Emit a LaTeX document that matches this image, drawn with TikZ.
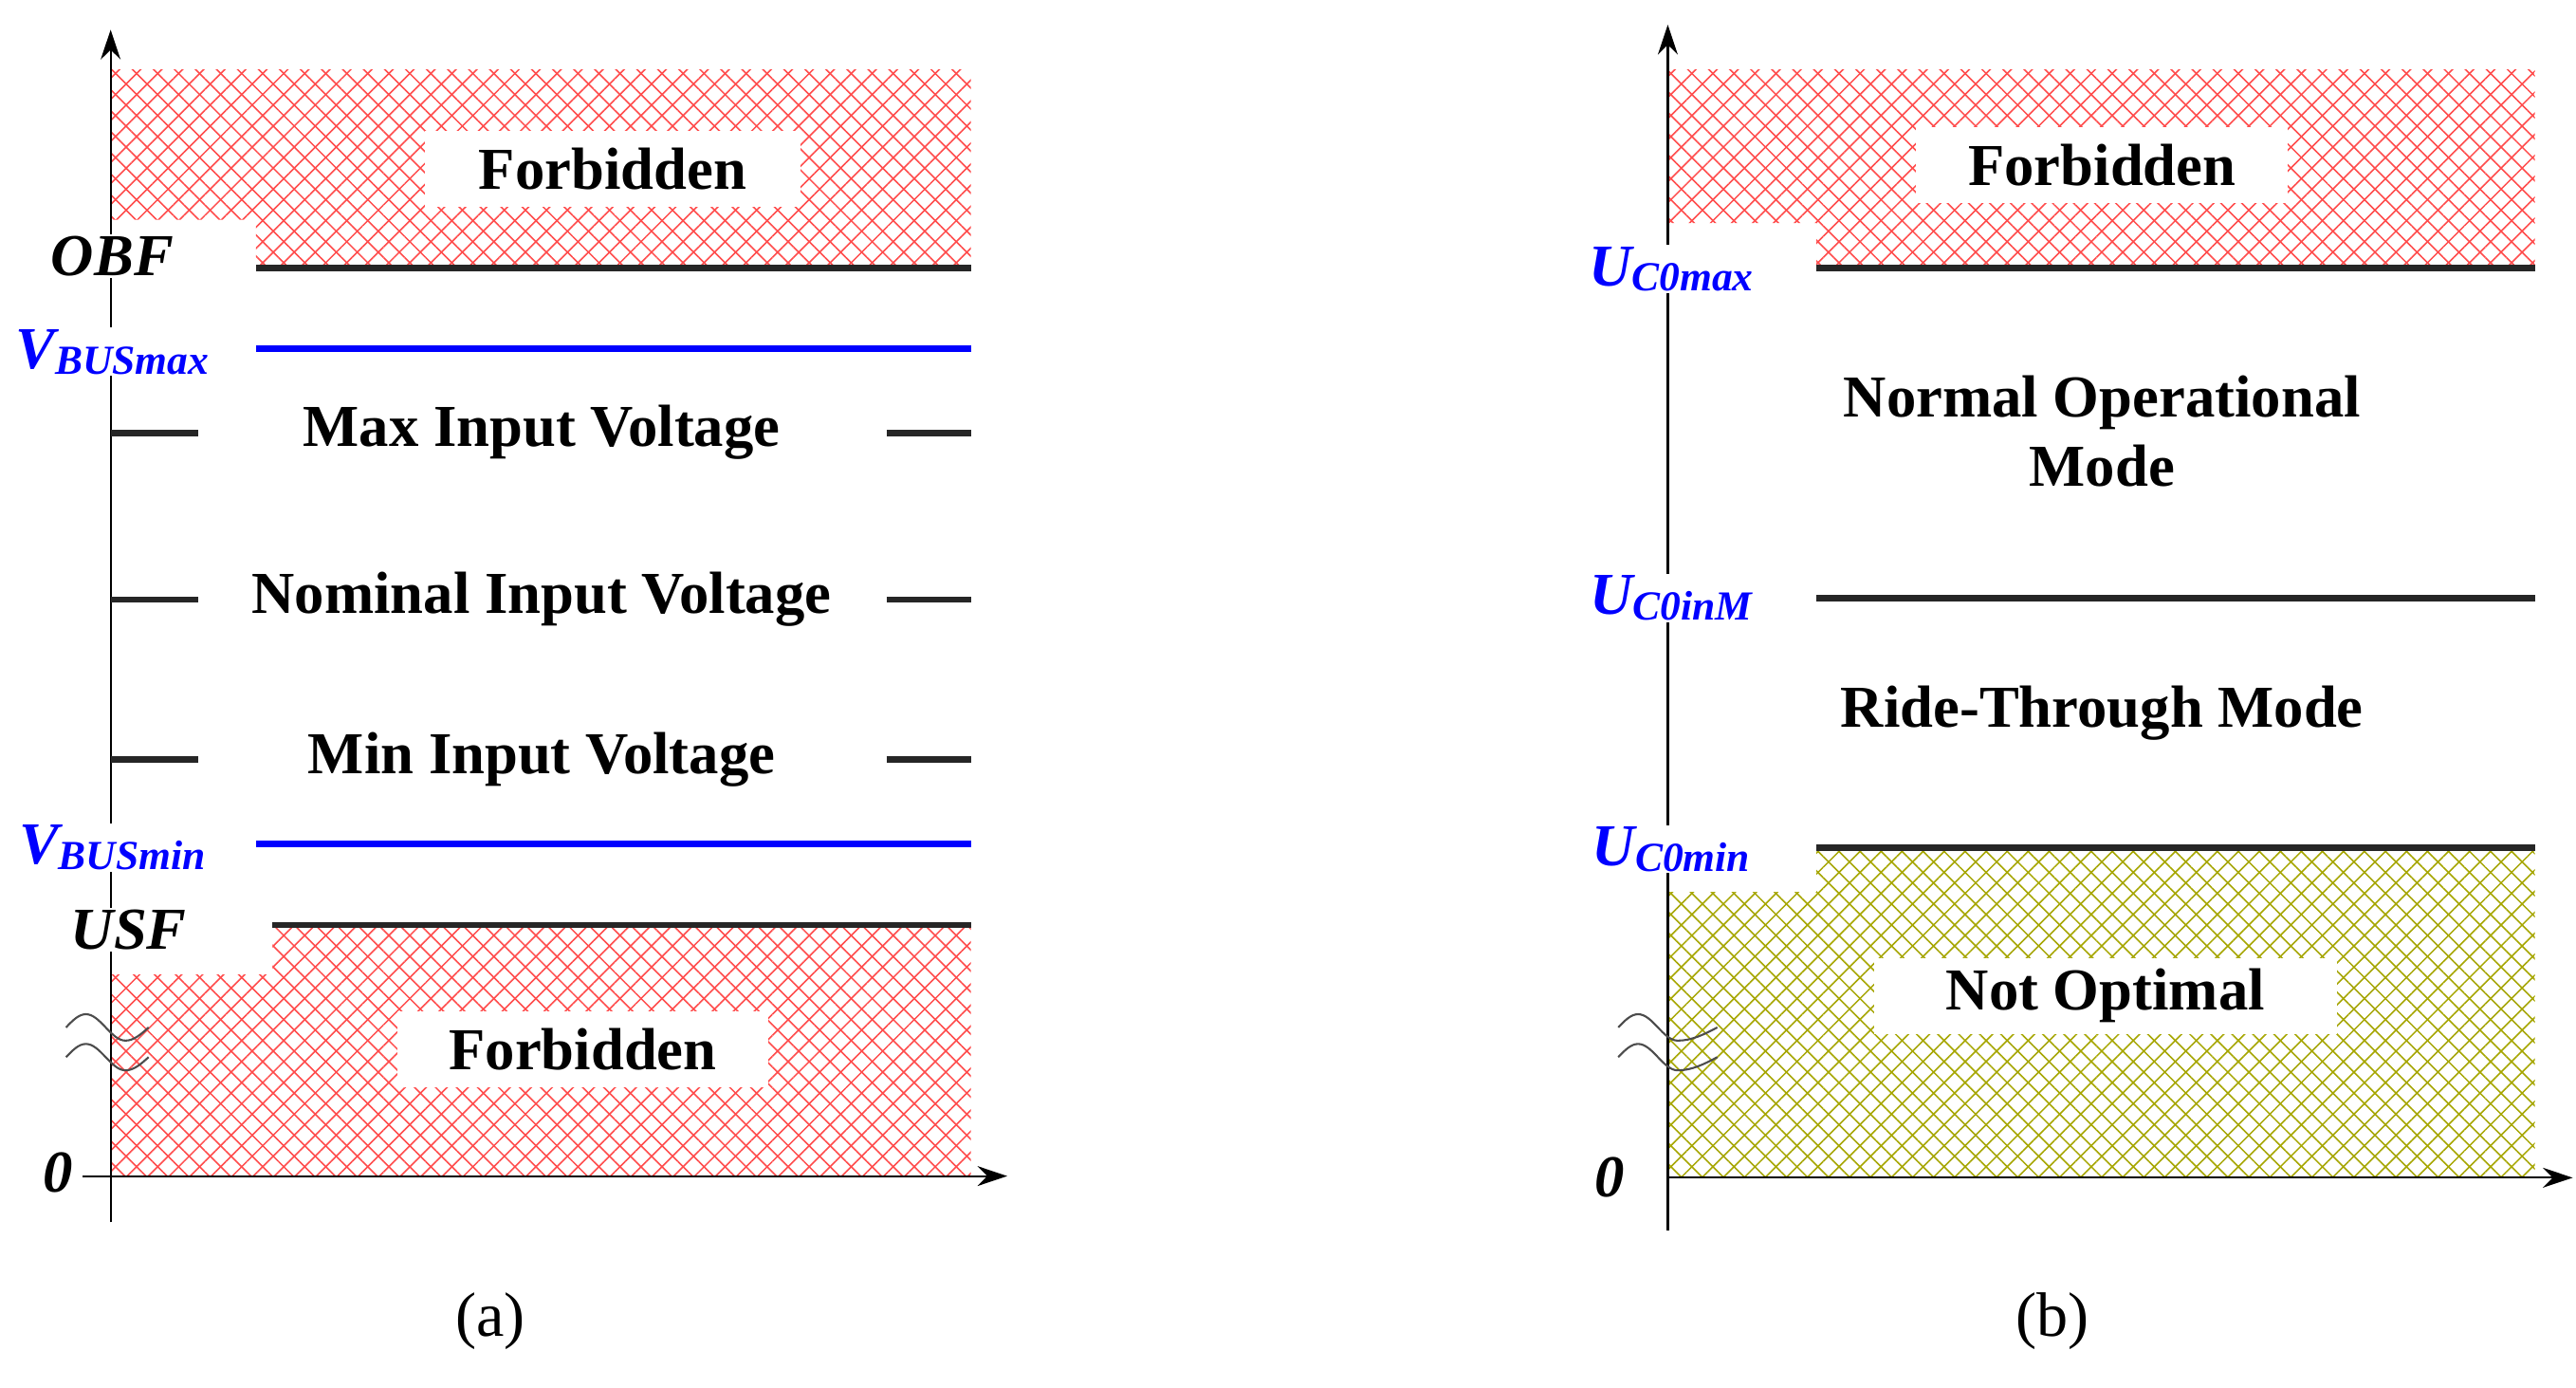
\documentclass[tikz,border=0pt]{standalone}
\usepackage{fontspec}
\setmainfont{Liberation Serif}
\usetikzlibrary{patterns.meta,arrows.meta,calc}
\tikzset{
 redhatch/.style={pattern={Lines[angle=45,distance=9pt,line width=0.9pt]},pattern color=red!70},
 redhatch2/.style={pattern={Lines[angle=-45,distance=9pt,line width=0.9pt]},pattern color=red!70},
 olhatch/.style={pattern={Lines[angle=45,distance=9pt,line width=0.9pt]},pattern color=olive!70},
 olhatch2/.style={pattern={Lines[angle=-45,distance=9pt,line width=0.9pt]},pattern color=olive!70},
 big/.style={font=\fontsize{36}{42}\selectfont\bfseries},
 wbox/.style={fill=white,inner sep=0pt,minimum width=#1,minimum height=46pt,big},
 axis/.style={line width=1.2pt,-{Stealth[length=18pt,width=12pt]}},
 blk/.style={line width=4pt,black!85},
 blu/.style={line width=4pt,blue},
 lab/.style={font=\fontsize{36}{42}\selectfont\bfseries\itshape,fill=white,inner sep=1pt},
 blab/.style={font=\fontsize{36}{42}\selectfont\bfseries\itshape,text=blue,inner sep=1pt,fill=white},
 sub/.style={},
 tick/.style={line width=4pt,black!85},
 wav/.style={line width=1.2pt,black!70},
}
\newcommand{\mysub}[1]{\raisebox{-0.2ex}{\fontsize{25}{28}\selectfont #1}}
\begin{document}
\begin{tikzpicture}[x=1pt,y=-1pt]
\useasboundingbox[fill=white] (0,0) rectangle (1560,840);
% ---------- (a) ----------
\foreach \s in {redhatch,redhatch2}{
 \fill[\s] (67,42) -- (588,42) -- (588,162) -- (155,162) -- (155,133) -- (67,133) -- cycle;
 \fill[\s] (165,560) -- (588,560) -- (588,712) -- (67,712) -- (67,590) -- (165,590) -- cycle;}
\node[wbox=227pt] (fa1) at (371,102) {Forbidden};
\node[wbox=225pt] (fa2) at (353,635) {Forbidden};
\draw[axis] (67,740) -- (67,18);
\draw[axis] (50,712) -- (610,712);
\coordinate (obf1) at (155,162); \coordinate (obf2) at (588,162);
\draw[blk] (obf1) -- (obf2);
\node[lab] (obf) at (68,155) {OBF};
\coordinate (vm1) at (155,211); \coordinate (vm2) at (588,211);
\draw[blu] (vm1) -- (vm2);
\node[blab] (vmax) at (68,213) {V\mysub{BUSmax}};
\foreach \y/\t in {262/Max Input Voltage,363/Nominal Input Voltage,460/Min Input Voltage}{
 \draw[tick] (67,\y) -- (120,\y); \draw[tick] (537,\y) -- (588,\y);
 \node[big] at (328,\y) {\t};}
\coordinate (vn1) at (155,511); \coordinate (vn2) at (588,511);
\draw[blu] (vn1) -- (vn2);
\node[blab] (vmin) at (68,513) {V\mysub{BUSmin}};
\coordinate (usf1) at (165,560); \coordinate (usf2) at (588,560);
\draw[blk] (usf1) -- (usf2);
\node[lab] (usf) at (78,563) {USF};
\draw[wav] (40,622) sin (52,614) cos (64,622) sin (76,630) cos (90,622);
\draw[wav] (40,640) sin (52,632) cos (64,640) sin (76,648) cos (90,640);
\node[lab] (za) at (35,710) {0};
\node[font=\fontsize{38}{44}\selectfont] (ca) at (297,800) {(a)};
% ---------- (b) ----------
\foreach \s in {redhatch,redhatch2}{
 \fill[\s] (1010,42) -- (1535,42) -- (1535,162) -- (1100,162) -- (1100,135) -- (1010,135) -- cycle;}
\foreach \s in {olhatch,olhatch2}{
 \fill[\s] (1100,513) -- (1535,513) -- (1535,713) -- (1010,713) -- (1010,540) -- (1100,540) -- cycle;}
\node[wbox=225pt] (fb) at (1273,100) {Forbidden};
\node[wbox=280pt] (no) at (1275,603) {Not Optimal};
\draw[axis] (1010,745) -- (1010,15);
\draw[axis] (1010,713) -- (1558,713);
\coordinate (u1) at (1100,162); \coordinate (u2) at (1535,162);
\draw[blk] (u1) -- (u2);
\node[blab] (ucmax) at (1012,163) {U\mysub{C0max}};
\node[big,align=center] (nom) at (1273,261) {Normal Operational\\Mode};
\coordinate (m1) at (1100,362); \coordinate (m2) at (1535,362);
\draw[blk] (m1) -- (m2);
\node[blab] (ucin) at (1012,362) {U\mysub{C0inM}};
\node[big] (rt) at (1273,432) {Ride-Through Mode};
\coordinate (n1) at (1100,513); \coordinate (n2) at (1535,513);
\draw[blk] (n1) -- (n2);
\node[blab] (ucmin) at (1012,514) {U\mysub{C0min}};
\draw[wav] (980,622) sin (992,614) cos (1004,622) sin (1016,630) cos (1040,622);
\draw[wav] (980,640) sin (992,632) cos (1004,640) sin (1016,648) cos (1040,640);
\node[lab] (zb) at (975,713) {0};
\node[font=\fontsize{38}{44}\selectfont] (cb) at (1243,800) {(b)};
\end{tikzpicture}
\end{document}
